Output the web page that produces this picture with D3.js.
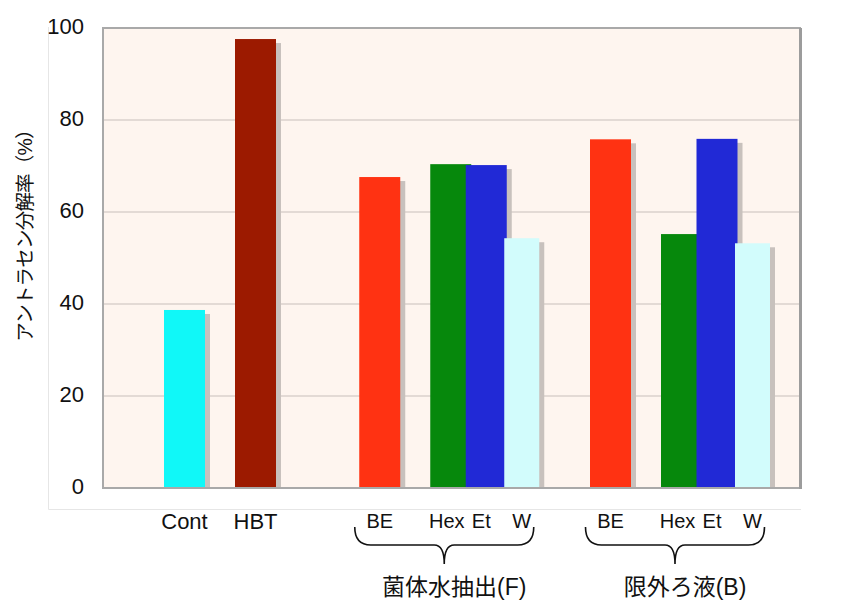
<!DOCTYPE html>
<html>
<head>
<meta charset="utf-8">
<script src="https://cdn.jsdelivr.net/npm/d3@7"></script>
<style>
  html, body { margin: 0; padding: 0; background: #ffffff; }
  svg { display: block; }
  text { font-family: "Liberation Sans", Arial, "Noto Sans CJK JP", sans-serif; fill: #111; }
</style>
</head>
<body>
<svg id="chart" width="841" height="600"></svg>
<script>
// Anthracene degradation rate by treatment
const barKeys   = ["Cont", "HBT", "F-BE", "F-Hex", "F-Et", "F-W", "B-BE", "B-Hex", "B-Et", "B-W"];
const barLabels = ["Cont", "HBT", "BE", "Hex", "Et", "W", "BE", "Hex", "Et", "W"];
const values    = [38.7, 97.6, 67.6, 70.4, 70.2, 54.3, 75.8, 55.2, 75.9, 53.2];
const groupLabels  = ["菌体水抽出(F)", "限外ろ液(B)"];
const groupMembers = [["F-BE", "F-Hex", "F-Et", "F-W"], ["B-BE", "B-Hex", "B-Et", "B-W"]];
const yTicks = [0, 20, 40, 60, 80, 100];
const yTitle = "アントラセン分解率（%）";

const colorOf = {
  Cont: "#10f8f8", HBT: "#9c1a00", BE: "#ff3212",
  Hex: "#06880c", Et: "#2129d6", W: "#d2fcfc"
};

const svg = d3.select("#chart");
const plot = { left: 103, right: 800, top: 28, bottom: 488 };

// Bar slots in half-steps: lone bars, then clusters with a wider gap after the first member
const slotGaps = [0, 3, 6, 3, 1, 1, 4, 3, 1, 1];
const slots = [];
barKeys.forEach((k, i) => {
  for (let g = 0; g < slotGaps[i]; g++) slots.push(`_gap${slots.length}`);
  slots.push(k);
});

const x = d3.scalePoint().domain(slots).range([plot.left + 81.5, plot.right - 47.5]);
const y = d3.scaleLinear().domain([0, 100]).range([plot.bottom, plot.top]);

// outer faint frame
svg.append("path")
  .attr("d", `M48.5,27 V509.5 H801`)
  .attr("fill", "none").attr("stroke", "#e6e6e6").attr("stroke-width", 1);

// plot background
svg.append("rect")
  .attr("x", plot.left).attr("y", plot.top)
  .attr("width", plot.right - plot.left).attr("height", plot.bottom - plot.top)
  .attr("fill", "#fef5ef");

// gridlines
svg.append("g").selectAll("line")
  .data(yTicks.filter(t => t > 0 && t < 100))
  .join("line")
  .attr("x1", plot.left).attr("x2", plot.right)
  .attr("y1", d => y(d)).attr("y2", d => y(d))
  .attr("stroke", "#dad1cc").attr("stroke-width", 1.5);

// bars with drop shadows
const bars = barKeys.map((k, i) => ({ key: k, label: barLabels[i], value: values[i] }));
const widthOf = d => d.label === "W" ? 35 : 41;
const barG = svg.append("g");
bars.forEach(d => {
  const w = widthOf(d);
  const cx = x(d.key);
  barG.append("rect")
    .attr("x", cx - w / 2 + 5).attr("y", y(d.value) + 4)
    .attr("width", w).attr("height", Math.max(0, y(0) - y(d.value) - 4))
    .attr("fill", "#c8c1bd");
  barG.append("rect")
    .attr("x", cx - w / 2).attr("y", y(d.value))
    .attr("width", w).attr("height", y(0) - y(d.value))
    .attr("fill", colorOf[d.label]);
});

// plot border
svg.append("rect")
  .attr("x", plot.left).attr("y", plot.top)
  .attr("width", plot.right - plot.left).attr("height", plot.bottom - plot.top)
  .attr("fill", "none").attr("stroke", "#a9a9a9").attr("stroke-width", 2);
svg.append("line")
  .attr("x1", plot.right + 0.5).attr("x2", plot.right + 0.5)
  .attr("y1", plot.top).attr("y2", plot.bottom + 1)
  .attr("stroke", "#9c9c9c").attr("stroke-width", 3);

// y axis labels
const yAxis = d3.axisLeft(y).tickValues(yTicks).tickSize(0).tickPadding(0);
const yg = svg.append("g").attr("transform", `translate(84,0)`).call(yAxis);
yg.select(".domain").remove();
yg.selectAll("text")
  .attr("font-size", 22).attr("font-family", "Liberation Sans, Arial, sans-serif")
  .attr("fill", "#111").attr("dy", "0.27em");

// y axis title
svg.append("text")
  .attr("transform", `translate(32,231) rotate(-90)`)
  .attr("text-anchor", "middle")
  .attr("font-size", 19.5)
  .attr("letter-spacing", -0.8)
  .attr("font-family", "Noto Sans CJK JP, sans-serif")
  .text(yTitle);

// category labels
svg.append("g").selectAll("text")
  .data(bars)
  .join("text")
  .attr("x", d => x(d.key) + (d.label === "Hex" ? -4 : d.label === "Et" ? -5 : 0))
  .attr("y", d => (d.key === "Cont" || d.key === "HBT") ? 529 : 528)
  .attr("text-anchor", "middle")
  .attr("font-size", d => (d.key === "Cont" || d.key === "HBT") ? 22 : 20)
  .text(d => d.label);

// braces and group labels
groupMembers.forEach((members, gi) => {
  const x0 = x(members[0]) - 25;
  const x1 = x(members[members.length - 1]) + 12;
  const xm = (x0 + x1) / 2;
  const yTop = 527, yMid = 545, yTip = 564;
  const p = d3.path();
  p.moveTo(x0, yTop);
  p.quadraticCurveTo(x0, yMid, x0 + 16, yMid);
  p.lineTo(xm - 10, yMid);
  p.quadraticCurveTo(xm, yMid, xm, yTip);
  p.quadraticCurveTo(xm, yMid, xm + 10, yMid);
  p.lineTo(x1 - 16, yMid);
  p.quadraticCurveTo(x1, yMid, x1, yTop);
  svg.append("path").attr("d", p.toString())
    .attr("fill", "none").attr("stroke", "#111").attr("stroke-width", 1.6);
  svg.append("text")
    .attr("x", xm + 10).attr("y", 595)
    .attr("text-anchor", "middle")
    .attr("font-size", 23)
    .text(groupLabels[gi]);
});
</script>
</body>
</html>
